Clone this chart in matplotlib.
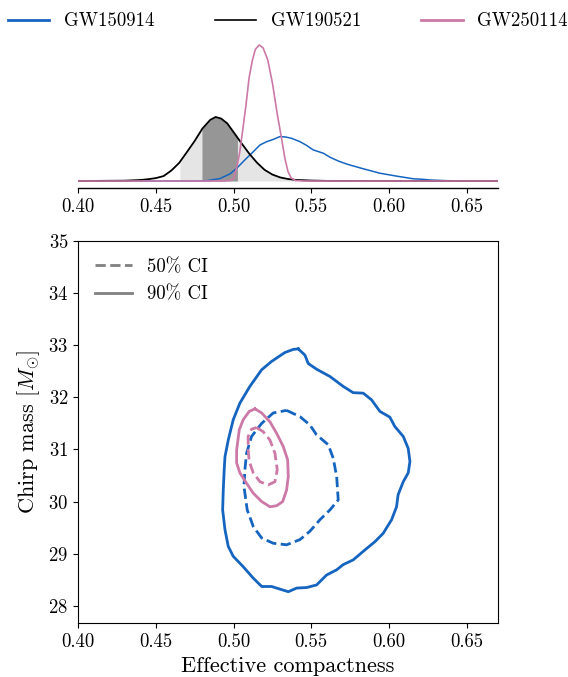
import numpy as np
import matplotlib
matplotlib.use("Agg")
import matplotlib.pyplot as plt
from matplotlib.lines import Line2D

plt.rcParams.update({
    "font.family": "serif",
    "font.serif": ["cmr10"],
    "mathtext.fontset": "cm",
    "axes.formatter.use_mathtext": True,
    "axes.unicode_minus": False,
    "font.size": 13.5,
})

events = ["GW150914", "GW190521", "GW250114"]
colors = {"GW150914": "#1565c0", "GW190521": "black", "GW250114": "#cc79a7"}

# Marginal densities of the effective compactness
c_gw150914 = [0.400, 0.475, 0.4827, 0.4913, 0.4977, 0.502, 0.5073, 0.5127, 0.517,
              0.5213, 0.5255, 0.5298, 0.5335, 0.5373, 0.5427, 0.547, 0.5512, 0.5577,
              0.562, 0.5673, 0.5727, 0.5748, 0.5834, 0.5877, 0.5941, 0.6048, 0.6155,
              0.6219, 0.6262, 0.637, 0.650, 0.670]
pdf_gw150914 = [0, 0, 0.14, 1.1, 3.2, 5.7, 9.5, 13.2, 16.2, 17.7, 18.7, 20.0, 19.8,
                19.2, 17.7, 16.0, 14.0, 12.5, 10.7, 9.0, 7.65, 7.2, 5.5, 4.7, 3.5,
                2.2, 1.0, 0.75, 0.45, 0.14, 0, 0]

c_gw190521 = [0.400, 0.430, 0.440, 0.445, 0.450, 0.455, 0.460, 0.465, 0.470, 0.475,
              0.480, 0.485, 0.4885, 0.492, 0.496, 0.500, 0.505, 0.510, 0.515, 0.520,
              0.525, 0.530, 0.535, 0.540, 0.550, 0.560, 0.670]
pdf_gw190521 = [0, 0.14, 0.45, 0.8, 1.3, 2.2, 4.7, 8.1, 13.0, 18.0, 23.6, 27.5, 28.8,
                28.1, 25.9, 22.0, 17.1, 12.4, 8.3, 5.0, 2.9, 1.6, 0.9, 0.5, 0.2, 0.05, 0]

c_gw250114 = [0.400, 0.494, 0.498, 0.500, 0.502, 0.504, 0.506, 0.508, 0.510, 0.512,
              0.514, 0.5165, 0.519, 0.522, 0.525, 0.528, 0.531, 0.533, 0.535, 0.537,
              0.540, 0.545, 0.670]
pdf_gw250114 = [0, 0, 0.3, 1.1, 5.9, 13.0, 23.4, 34.2, 46.4, 54.0, 59.2, 61.2, 59.9,
                54.5, 44.1, 30.6, 18.7, 10.2, 4.3, 1.35, 0.2, 0, 0]

# GW190521 credible intervals on the compactness
ci90_gw190521 = (0.4655, 0.5405)
ci50_gw190521 = (0.4797, 0.5025)

# Joint credible regions (effective compactness, chirp mass)
gw150914_90_c = [0.5416, 0.5459, 0.5480, 0.5534, 0.5620, 0.5705, 0.5769, 0.5834, 0.5888,
                 0.5941, 0.6005, 0.6037, 0.6091, 0.6123, 0.6134, 0.6123, 0.6091, 0.6058,
                 0.6048, 0.6016, 0.5962, 0.5909, 0.5844, 0.5769, 0.5705, 0.5663, 0.5598,
                 0.5534, 0.5470, 0.5406, 0.5352, 0.5298, 0.5245, 0.5181, 0.5127, 0.5062,
                 0.4998, 0.4966, 0.4945, 0.4930, 0.4934, 0.4940, 0.4945, 0.4966, 0.4998,
                 0.5041, 0.5105, 0.5181, 0.5245, 0.5330, 0.5384]
gw150914_90_m = [32.93, 32.81, 32.65, 32.54, 32.40, 32.21, 32.09, 32.08, 31.95, 31.73,
                 31.62, 31.44, 31.25, 31.02, 30.77, 30.55, 30.38, 30.13, 29.90, 29.65,
                 29.39, 29.23, 29.07, 28.88, 28.79, 28.69, 28.59, 28.40, 28.35, 28.34,
                 28.27, 28.32, 28.37, 28.37, 28.53, 28.75, 28.95, 29.14, 29.46, 29.84,
                 30.22, 30.61, 30.86, 31.18, 31.57, 31.89, 32.21, 32.53, 32.69, 32.86,
                 32.92]

gw150914_50_c = [0.5341, 0.5427, 0.5491, 0.5534, 0.5609, 0.5641, 0.5663, 0.5673, 0.5620,
                 0.5555, 0.5491, 0.5427, 0.5341, 0.5255, 0.5181, 0.5127, 0.5088, 0.5067,
                 0.5073, 0.5084, 0.5116, 0.5181, 0.5255]
gw150914_50_m = [31.75, 31.63, 31.47, 31.28, 31.09, 30.83, 30.48, 30.03, 29.84, 29.65,
                 29.43, 29.27, 29.17, 29.20, 29.30, 29.52, 29.84, 30.29, 30.61, 30.93,
                 31.25, 31.50, 31.70]

gw250114_90_c = [0.5138, 0.5181, 0.5234, 0.5277, 0.5319, 0.5348, 0.5352, 0.5341, 0.5316,
                 0.5277, 0.5234, 0.5181, 0.5127, 0.5084, 0.5041, 0.5020, 0.5020, 0.5037,
                 0.5062, 0.5101]
gw250114_90_m = [31.78, 31.70, 31.53, 31.31, 31.06, 30.80, 30.48, 30.22, 30.00, 29.92,
                 29.90, 30.00, 30.16, 30.35, 30.55, 30.74, 30.99, 31.38, 31.57, 31.73]

gw250114_50_c = [0.5148, 0.5191, 0.5234, 0.5266, 0.5281, 0.5266, 0.5223, 0.5170, 0.5127,
                 0.5101, 0.5094, 0.5094, 0.5116]
gw250114_50_m = [31.42, 31.34, 31.18, 30.93, 30.61, 30.38, 30.32, 30.38, 30.55, 30.77,
                 30.99, 31.25, 31.39]

x_ticks = [0.40, 0.45, 0.50, 0.55, 0.60, 0.65]
y_ticks = [28, 29, 30, 31, 32, 33, 34, 35]
x_lim = (0.40, 0.67)
y_lim = (27.67, 35.0)


def closed(a):
    return list(a) + [a[0]]


def shade(ax, x, y, lo, hi, color):
    x = np.asarray(x, float)
    y = np.asarray(y, float)
    inside = (x > lo) & (x < hi)
    xs = np.concatenate([[lo], x[inside], [hi]])
    ys = np.concatenate([[np.interp(lo, x, y)], y[inside], [np.interp(hi, x, y)]])
    ax.fill_between(xs, 0, ys, color=color, lw=0, zorder=1)


fig = plt.figure(figsize=(5.68, 6.77), dpi=100)
ax_top = fig.add_axes([0.1373, 0.7223, 0.7394, 0.2216])
ax = fig.add_axes([0.1373, 0.0798, 0.7394, 0.5642])

# Top panel: marginal densities
shade(ax_top, c_gw190521, pdf_gw190521, *ci90_gw190521, "#e5e5e5")
shade(ax_top, c_gw190521, pdf_gw190521, *ci50_gw190521, "#969696")
ax_top.plot(c_gw150914, pdf_gw150914, color=colors["GW150914"], lw=1.1, zorder=3)
ax_top.plot(c_gw190521, pdf_gw190521, color=colors["GW190521"], lw=1.3, zorder=3)
ax_top.plot(c_gw250114, pdf_gw250114, color=colors["GW250114"], lw=1.2, zorder=3)
ax_top.set_xlim(*x_lim)
ax_top.set_ylim(-3.15, 64.35)
ax_top.set_xticks(x_ticks)
ax_top.set_xticklabels([f"{t:.2f}" for t in x_ticks])
ax_top.set_yticks([])
for side in ("left", "right", "top"):
    ax_top.spines[side].set_visible(False)
ax_top.spines["bottom"].set_linewidth(1.0)

# Bottom panel: joint credible regions
lw = 2.0
ax.plot(closed(gw150914_90_c), closed(gw150914_90_m), color=colors["GW150914"], lw=lw)
ax.plot(closed(gw150914_50_c), closed(gw150914_50_m), color=colors["GW150914"], lw=lw, ls="--")
ax.plot(closed(gw250114_90_c), closed(gw250114_90_m), color=colors["GW250114"], lw=lw)
ax.plot(closed(gw250114_50_c), closed(gw250114_50_m), color=colors["GW250114"], lw=lw, ls="--")
ax.set_xlim(*x_lim)
ax.set_ylim(*y_lim)
ax.set_xticks(x_ticks)
ax.set_xticklabels([f"{t:.2f}" for t in x_ticks])
ax.set_yticks(y_ticks)
ax.set_xlabel("Effective compactness", fontsize=16)
ax.set_ylabel(r"Chirp mass [$M_{\odot}$]", fontsize=16)

ci_handles = [Line2D([], [], color="#808080", lw=2, ls="--"),
              Line2D([], [], color="#808080", lw=2, ls="-")]
ax.legend(ci_handles, ["50% CI", "90% CI"], loc="upper left", frameon=False,
          fontsize=13.5)

ev_handles = [Line2D([], [], color=colors["GW150914"], lw=2),
              Line2D([], [], color=colors["GW190521"], lw=1.2),
              Line2D([], [], color=colors["GW250114"], lw=2)]
fig.legend(ev_handles, events, loc="lower left", bbox_to_anchor=(0.014, 0.955, 0.986, 0.04),
           mode="expand", ncol=3, frameon=False, borderpad=0, borderaxespad=0,
           fontsize=13.5, handlelength=2.2)

fig.savefig("out.png", dpi=100)
